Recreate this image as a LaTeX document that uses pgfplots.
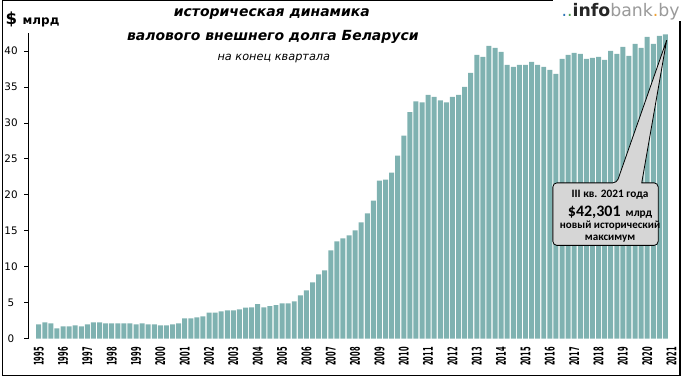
\documentclass[border=0pt]{standalone}
\usepackage{pgfplots}
\pgfplotsset{compat=1.18}
\usepackage{fontspec}
\setmainfont{DejaVu Sans}[ItalicFont={DejaVu Sans Oblique},BoldItalicFont={DejaVu Sans Bold Oblique}]
\newfontfamily\carlito{Carlito}
\definecolor{barc}{HTML}{7FB2B1}
\definecolor{callg}{HTML}{D6D6D6}
\definecolor{dotb}{HTML}{2E75B6}
\definecolor{dotg}{HTML}{4F9F4F}
\definecolor{infoc}{HTML}{262626}
\definecolor{bankc}{HTML}{9A9A9A}
\definecolor{orng}{HTML}{F0A030}
\newcommand\yl[1]{\scalebox{0.5}[1]{#1}}
\begin{document}
\begin{tikzpicture}
\begin{scope}[x=0.75pt,y=-0.75pt]
\useasboundingbox (0,0) rectangle (681,379);
\end{scope}
\begin{axis}[
  at={(20.175pt,-254.625pt)}, anchor=south west,
  scale only axis, width=485.87pt, height=229.82pt,
  xmin=-1.7, xmax=104.5, ymin=0, ymax=42.5,
  enlargelimits=false,
  axis x line*=bottom, axis y line*=left,
  axis line style={-, line width=0.6pt},
  x axis line style={draw=none},
  ytick={0,5,...,40},
  xtick={0,4,...,104},
  xticklabels={\yl{1995},\yl{1996},\yl{1997},\yl{1998},\yl{1999},\yl{2000},\yl{2001},\yl{2002},\yl{2003},\yl{2004},\yl{2005},\yl{2006},\yl{2007},\yl{2008},\yl{2009},\yl{2010},\yl{2011},\yl{2012},\yl{2013},\yl{2014},\yl{2015},\yl{2016},\yl{2017},\yl{2018},\yl{2019},\yl{2020},\yl{2021}},
  xtick style={draw=none},
  ytick style={black, line width=0.6pt},
  tick align=outside, major tick length=3pt,
  yticklabel style={font=\fontsize{7.8}{9}\selectfont, anchor=center, xshift=-10pt},
  xticklabel style={font=\bfseries\fontsize{10}{10}\selectfont, rotate=90, anchor=east},
  /pgf/number format/assume math mode=true,
  ybar, bar width=0.82, clip=false,
]
\addplot[fill=barc, draw=none] coordinates {
(0,2.00) (1,2.27) (2,2.13) (3,1.44) (4,1.71) (5,1.71) (6,1.85) (7,1.71)
(8,1.99) (9,2.27) (10,2.27) (11,2.13) (12,2.13) (13,2.13) (14,2.13) (15,2.13)
(16,1.99) (17,2.13) (18,1.99) (19,1.99) (20,1.85) (21,1.85) (22,1.99) (23,2.13)
(24,2.82) (25,2.82) (26,2.96) (27,3.10) (28,3.61) (29,3.61) (30,3.80) (31,3.94)
(32,3.94) (33,4.07) (34,4.33) (35,4.37) (36,4.79) (37,4.37) (38,4.51) (39,4.65)
(40,4.92) (41,4.92) (42,5.20) (43,6.03) (44,6.73) (45,7.84) (46,8.95) (47,9.50)
(48,12.27) (49,13.52) (50,13.94) (51,14.35) (52,15.05) (53,16.16) (54,17.41) (55,19.21)
(56,21.98) (57,22.12) (58,23.09) (59,25.45) (60,28.22) (61,31.5) (62,33.0) (63,32.85)
(64,33.91) (65,33.63) (66,33.13) (67,32.85) (68,33.63) (69,33.91) (70,35.02) (71,36.96)
(72,39.46) (73,39.18) (74,40.71) (75,40.43) (76,39.88) (77,38.07) (78,37.79) (79,38.07)
(80,38.07) (81,38.49) (82,38.07) (83,37.79) (84,37.38) (85,36.82) (86,38.90) (87,39.46)
(88,39.74) (89,39.60) (90,38.90) (91,39.04) (92,39.18) (93,38.77) (94,40.01) (95,39.60)
(96,40.57) (97,39.32) (98,40.98) (99,40.43) (100,41.96) (101,40.98) (102,42.09) (103,42.30)
};
\draw[fill=callg, draw=black, line width=0.6pt, rounded corners=3pt]
  (axis cs:84.5,21.66) -- (axis cs:95.0,21.66) [sharp corners] -- (axis cs:103.2,41.5)
  -- (axis cs:99.1,21.66) [rounded corners=3pt] -- (axis cs:101.8,21.66)
  -- (axis cs:101.8,12.97) -- (axis cs:84.5,12.97) -- cycle;
\node[font=\carlito\bfseries\fontsize{8.5}{9}\selectfont] at (axis cs:93.9,20.04) {III кв. 2021 года};
\node[font=\carlito\bfseries\fontsize{8.5}{9}\selectfont] at (axis cs:93.9,17.5) {{\fontsize{12}{12}\selectfont\$42,301}\ \ млрд};
\node[font=\carlito\bfseries\fontsize{8.3}{9}\selectfont] at (axis cs:93.9,15.74) {новый исторический};
\node[font=\carlito\bfseries\fontsize{8.3}{9}\selectfont] at (axis cs:93.9,13.94) {максимум};
\end{axis}
\begin{scope}[x=0.75pt,y=-0.75pt]
\draw[black, line width=0.9pt] (0.8,0.8) rectangle (680.2,376.5);
\fill[white] (553,0) rectangle (681,21);
\node[anchor=east, inner sep=0pt, font=\fontsize{13}{13}\selectfont] at (680,12)
  {{\color{dotb}.}{\color{dotg}.}{\bfseries\color{infoc}info}{\color{bankc}bank}{\color{orng}.}{\color{bankc}by}};
\node[font=\bfseries\itshape\fontsize{10.5}{12}\selectfont] at (271,14) {историческая динамика};
\node[font=\bfseries\itshape\fontsize{10.5}{12}\selectfont] at (272,37) {валового внешнего долга Беларуси};
\node[font=\itshape\fontsize{8.5}{10}\selectfont] at (273,59) {на конец квартала};
\node[anchor=base west, inner sep=0pt, font=\bfseries\fontsize{12.5}{12}\selectfont] at (4,25) {\$};
\node[anchor=base west, inner sep=0pt, font=\bfseries\fontsize{9}{9}\selectfont] at (21,25) {млрд};
\end{scope}
\end{tikzpicture}
\end{document}
